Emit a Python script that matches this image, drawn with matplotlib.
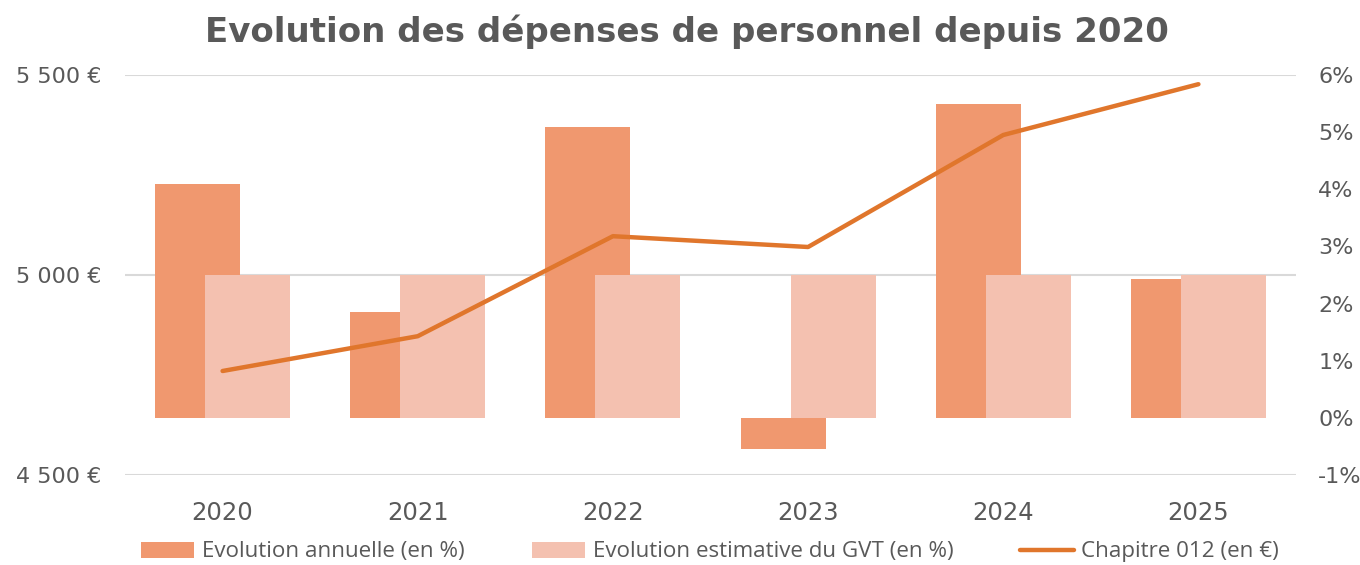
import matplotlib
matplotlib.use("Agg")
import matplotlib.pyplot as plt
import numpy as np
from matplotlib.ticker import FuncFormatter, FixedLocator

plt.rcParams['font.family'] = ['Roboto', 'DejaVu Sans']

years = ["2020", "2021", "2022", "2023", "2024", "2025"]
evol_annuelle = [4.10, 1.85, 5.09, -0.54, 5.50, 2.43]   # %
evol_gvt = [2.5, 2.5, 2.5, 2.5, 2.5, 2.5]                # %
chapitre_012 = [4760, 4847, 5097, 5070, 5350, 5477]      # €

c_annual = "#F0986F"
c_gvt = "#F4C1B0"
c_line = "#E0762C"
c_text = "#595959"
c_grid = "#D9D9D9"

fig = plt.figure(figsize=(13.6, 5.65), dpi=100)
rect = [125/1360, 1 - 475/565, (1296-125)/1360, 400/565]

# Euro axis (gridlines and left ticks)
ax = fig.add_axes(rect)
ax.set_ylim(4500, 5500)
ax.set_xlim(-0.5, len(years) - 0.5)
ax.yaxis.set_major_locator(FixedLocator([4500, 5000, 5500]))
ax.yaxis.set_major_formatter(FuncFormatter(lambda v, p: f"{v:,.0f}".replace(",", " ") + " €"))
ax.grid(axis='y', color=c_grid, linewidth=1.5)
ax.set_axisbelow(True)
x = np.arange(len(years))
ax.set_xticks(x)
ax.set_xticklabels(years, fontfamily='DejaVu Sans')
ax.tick_params(axis='x', length=0, pad=19, labelsize=17.5, labelcolor=c_text)
ax.tick_params(axis='y', length=0, pad=17, labelsize=16, labelcolor=c_text)
for lab in ax.get_yticklabels():
    lab.set_fontfamily('DejaVu Sans')
for s in ax.spines.values():
    s.set_visible(False)

# Percent axis (bars)
axb = ax.twinx()
axb.set_ylim(-1, 6)
axb.yaxis.set_major_locator(FixedLocator(list(range(-1, 7))))
axb.yaxis.set_major_formatter(FuncFormatter(lambda v, p: f"{v:.0f}%"))
axb.tick_params(axis='y', length=0, pad=16, labelsize=16, labelcolor=c_text)
for lab in axb.get_yticklabels():
    lab.set_fontfamily('DejaVu Sans')
for s in axb.spines.values():
    s.set_visible(False)
w = 0.436
off = 0.128
b1 = axb.bar(x - off, evol_annuelle, width=w, color=c_annual, label="Evolution annuelle (en %)", zorder=2)
b2 = axb.bar(x + off, evol_gvt, width=w, color=c_gvt, label="Evolution estimative du GVT (en %)", zorder=3)

# Line axis (euros, on top)
axl = ax.twinx()
axl.set_ylim(4500, 5500)
axl.set_yticks([])
for s in axl.spines.values():
    s.set_visible(False)
ln, = axl.plot(x, chapitre_012, color=c_line, linewidth=3.2, solid_capstyle='round',
               solid_joinstyle='round', label="Chapitre 012 (en €)")

fig.text(0.505, 1 - 32/565, "Evolution des dépenses de personnel depuis 2020",
         ha='center', va='center', fontsize=24.5, fontweight='bold', color=c_text,
         fontfamily='DejaVu Sans')

leg = fig.legend(handles=[b1, b2, ln], loc='center', bbox_to_anchor=(0.522, 1 - 552/565),
                 ncol=3, frameon=False, labelcolor=c_text,
                 prop={'family': ['Open Sans', 'DejaVu Sans'], 'size': 16.1},
                 handlelength=2.4, handleheight=0.7, handletextpad=0.33, columnspacing=3.0)

fig.savefig("out.png", dpi=100)
